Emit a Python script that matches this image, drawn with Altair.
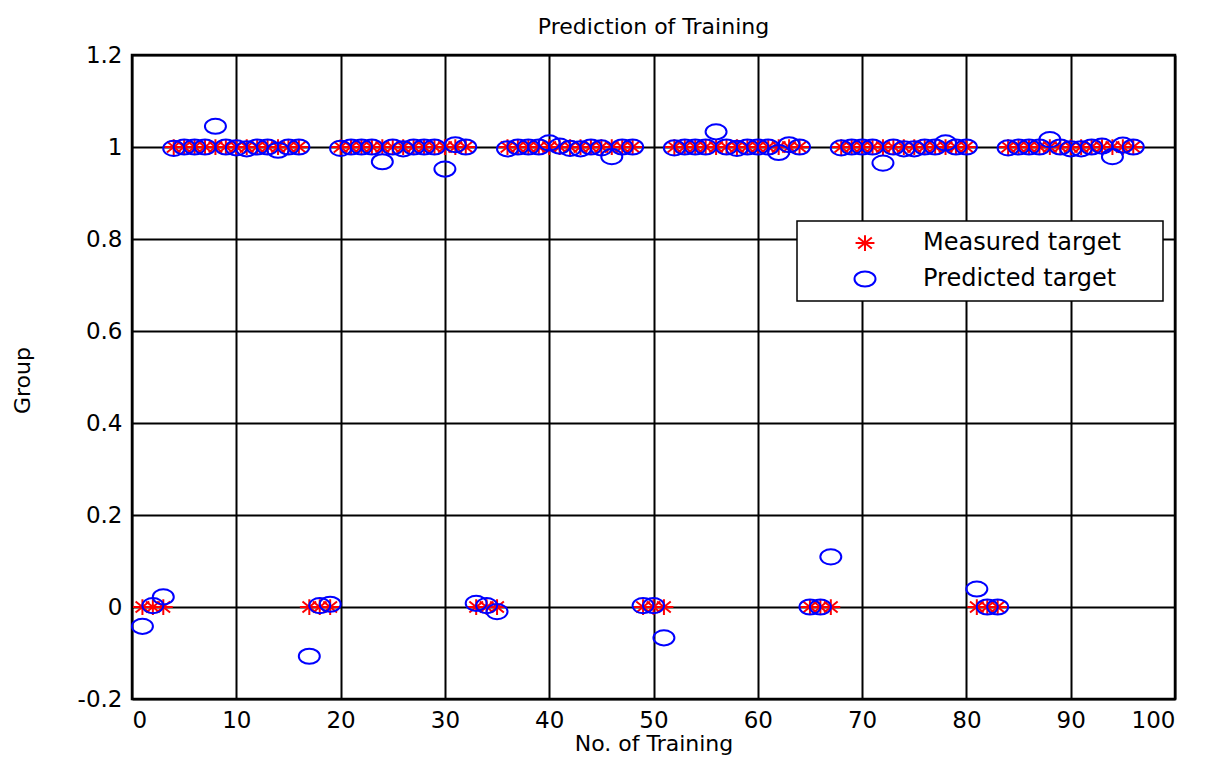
import altair as alt
import pandas as pd

# ---- data ----
sample_no = list(range(1, 97))

measured = [
    0, 0, 0, 1, 1, 1, 1, 1, 1, 1, 1, 1, 1, 1, 1, 1,
    0, 0, 0, 1, 1, 1, 1, 1, 1, 1, 1, 1, 1, 1, 1, 1,
    0, 0, 0, 1, 1, 1, 1, 1, 1, 1, 1, 1, 1, 1, 1, 1,
    0, 0, 0, 1, 1, 1, 1, 1, 1, 1, 1, 1, 1, 1, 1, 1,
    0, 0, 0, 1, 1, 1, 1, 1, 1, 1, 1, 1, 1, 1, 1, 1,
    0, 0, 0, 1, 1, 1, 1, 1, 1, 1, 1, 1, 1, 1, 1, 1,
]

predicted = [
    -0.042, 0.003, 0.022, 0.997, 1.0, 1.0, 1.0, 1.045, 1.0, 0.998, 0.996, 1.0, 1.0, 0.993, 1.0, 1.0,
    -0.107, 0.003, 0.006, 0.997, 1.0, 1.0, 1.0, 0.968, 1.0, 0.996, 1.0, 1.0, 1.0, 0.952, 1.005, 1.0,
    0.008, 0.003, -0.010, 0.996, 1.0, 1.0, 1.0, 1.009, 1.002, 0.997, 0.996, 1.0, 0.998, 0.979, 1.0, 1.0,
    0.003, 0.003, -0.067, 0.998, 1.0, 1.0, 1.0, 1.033, 1.0, 0.997, 1.0, 1.0, 1.0, 0.988, 1.005, 1.0,
    0.0, 0.0, 0.109, 0.998, 1.0, 1.0, 1.0, 0.965, 1.0, 0.996, 0.996, 1.0, 1.0, 1.009, 1.0, 1.0,
    0.039, 0.0, 0.0, 0.998, 1.0, 1.0, 1.0, 1.016, 1.0, 0.996, 0.996, 1.0, 1.002, 0.979, 1.004, 1.0,
]

series_names = ["Measured target", "Predicted target"]
x_ticks = [0, 10, 20, 30, 40, 50, 60, 70, 80, 90, 100]
y_ticks = [-0.2, 0, 0.2, 0.4, 0.6, 0.8, 1.0, 1.2]

rows = []
for x, v in zip(sample_no, measured):
    rows.append({"n": x, "value": v, "series": series_names[0]})
for x, v in zip(sample_no, predicted):
    rows.append({"n": x, "value": v, "series": series_names[1]})
df = pd.DataFrame(rows)

STAR = "M -0.9 0 L 0.9 0 M 0 -0.75 L 0 0.75 M -0.65 -0.53 L 0.65 0.53 M -0.65 0.53 L 0.65 -0.53"
ELLIPSE = "M -1 0 A 1 0.72 0 1 1 1 0 A 1 0.72 0 1 1 -1 0 Z"

FONT = "DejaVu Sans"
LEG_TITLE = "\u00a0"  # blank spacer title placed on the right to widen the legend box

chart = (
    alt.Chart(df, title=alt.TitleParams(
        "Prediction of Training", fontSize=22, fontWeight="normal", font=FONT,
        color="black", anchor="middle", offset=5))
    .mark_point(filled=False, strokeWidth=2, size=441, opacity=1)
    .encode(
        x=alt.X("n:Q", scale=alt.Scale(domain=[0, 100], nice=False, zero=False),
                axis=alt.Axis(values=x_ticks, title="No. of Training",
                              titleY=51, titleBaseline="alphabetic")),
        y=alt.Y("value:Q", scale=alt.Scale(domain=[-0.2, 1.2], nice=False, zero=False),
                axis=alt.Axis(values=y_ticks, title="Group",
                              labelExpr="round(datum.value*10)/10 + ''",
                              titleX=-103, titleY=325, titleBaseline="alphabetic",
                              titleAlign="center")),
        color=alt.Color("series:N",
                        scale=alt.Scale(domain=series_names, range=["#ff0000", "#0000ff"]),
                        legend=alt.Legend(title=LEG_TITLE)),
        shape=alt.Shape("series:N",
                        scale=alt.Scale(domain=series_names, range=[STAR, ELLIPSE]),
                        legend=alt.Legend(title=LEG_TITLE)),
        order=alt.Order("series:N"),
    )
    .properties(width=1043, height=644,
                autosize=alt.AutoSizeParams(type="none"),
                padding={"left": 124, "top": 47, "right": 18, "bottom": 56})
    .configure_view(stroke="black", strokeWidth=2.5)
    .configure_axis(
        grid=True, gridColor="black", gridWidth=2, gridOpacity=1,
        ticks=False, domain=False,
        labelFont=FONT, labelFontSize=23, labelColor="black",
        titleFont=FONT, titleFontSize=24, titleFontWeight="normal", titleColor="black",
    )
    .configure_axisX(labelPadding=10, titleFontSize=22)
    .configure_axisY(labelPadding=10, titleFontSize=22)
    .configure_legend(
        orient="none", legendX=665, legendY=166,
        strokeColor="black", fillColor="white", strokeWidth=1.5,
        padding=10, rowPadding=12, symbolOffset=46, labelOffset=46,
        symbolSize=441, symbolStrokeWidth=2, symbolFillColor="transparent",
        labelFont=FONT, labelFontSize=24, labelColor="black", labelLimit=400,
        titleOrient="right", titlePadding=32, titleFont=FONT, titleFontSize=24,
    )
)

chart.save("out.html", embed_options={"renderer": "svg", "actions": False})
